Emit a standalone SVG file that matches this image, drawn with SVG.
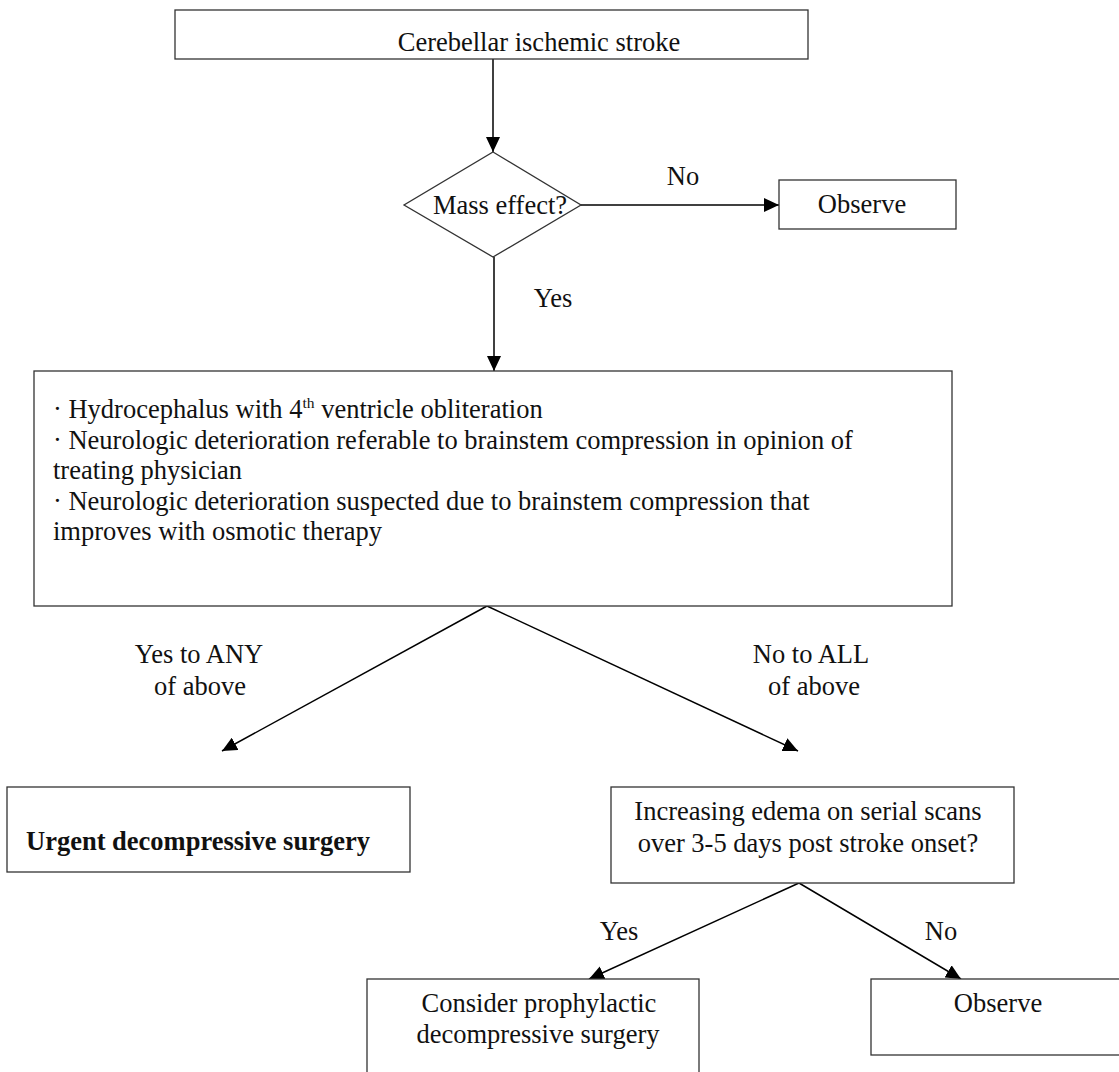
<svg xmlns="http://www.w3.org/2000/svg" width="1119" height="1072" viewBox="0 0 1119 1072">
<style>
  .box { fill: #fff; stroke: #333; stroke-width: 1.3; }
  .t { font-family: "Liberation Serif", "Times New Roman", serif; font-size: 26.5px; fill: #111; }
  .c { text-anchor: middle; }
  .b { font-weight: bold; }
  .edge { fill: none; stroke: #000; stroke-width: 1.5; }
</style>
<defs>
  <marker id="arr" markerUnits="userSpaceOnUse" markerWidth="16" markerHeight="14" refX="15" refY="7" orient="auto">
    <path d="M0,0 L15,7 L0,14 Z" fill="#000"/>
  </marker>
</defs>
<rect width="1119" height="1072" fill="#fff"/>

<g id="connectors">
  <line class="edge" x1="493" y1="59" x2="493" y2="152" marker-end="url(#arr)"/>
  <line class="edge" x1="581" y1="205" x2="779" y2="205" marker-end="url(#arr)"/>
  <line class="edge" x1="494" y1="257" x2="494" y2="371" marker-end="url(#arr)"/>
  <line class="edge" x1="487" y1="606" x2="222" y2="751" marker-end="url(#arr)"/>
  <line class="edge" x1="487" y1="606" x2="798" y2="751" marker-end="url(#arr)"/>
  <line class="edge" x1="799" y1="883" x2="589" y2="979" marker-end="url(#arr)"/>
  <line class="edge" x1="799" y1="883" x2="961" y2="979" marker-end="url(#arr)"/>
  <text class="t c" x="683" y="185">No</text>
  <text class="t c" x="553" y="307">Yes</text>
  <text class="t c" x="199" y="663">Yes to ANY</text>
  <text class="t c" x="200" y="695">of above</text>
  <text class="t c" x="811" y="663">No to ALL</text>
  <text class="t c" x="814" y="695">of above</text>
  <text class="t c" x="619" y="940">Yes</text>
  <text class="t c" x="941" y="940">No</text>
</g>

<g id="start">
  <rect class="box" x="175" y="10" width="633" height="49"/>
  <text class="t c" x="539" y="51">Cerebellar ischemic stroke</text>
</g>

<g id="mass-effect">
  <polygon class="box" points="493,152 581,205 493,257 404,205"/>
  <text class="t c" x="500" y="214">Mass effect?</text>
</g>

<g id="observe-1">
  <rect class="box" x="779" y="180" width="177" height="49"/>
  <text class="t c" x="862" y="213">Observe</text>
</g>

<g id="criteria">
  <rect class="box" x="34" y="371" width="918" height="235"/>
  <text class="t" x="53" y="418">· Hydrocephalus with 4<tspan font-size="15.5" dy="-10">th</tspan><tspan dy="10"> ventricle obliteration</tspan></text>
  <text class="t" x="53" y="448.5">· Neurologic deterioration referable to brainstem compression in opinion of</text>
  <text class="t" x="53" y="479">treating physician</text>
  <text class="t" x="53" y="509.5">· Neurologic deterioration suspected due to brainstem compression that</text>
  <text class="t" x="53" y="540">improves with osmotic therapy</text>
</g>

<g id="urgent">
  <rect class="box" x="7" y="787" width="403" height="85"/>
  <text class="t b" x="26" y="850">Urgent decompressive surgery</text>
</g>

<g id="edema">
  <rect class="box" x="611" y="787" width="403" height="96"/>
  <text class="t c" x="808" y="820">Increasing edema on serial scans</text>
  <text class="t c" x="808" y="852">over 3-5 days post stroke onset?</text>
</g>

<g id="prophylactic">
  <rect class="box" x="367" y="979" width="332" height="100"/>
  <text class="t c" x="539" y="1012">Consider prophylactic</text>
  <text class="t c" x="538" y="1043">decompressive surgery</text>
</g>

<g id="observe-2">
  <rect class="box" x="871" y="979" width="260" height="76"/>
  <text class="t c" x="998" y="1012">Observe</text>
</g>
</svg>
